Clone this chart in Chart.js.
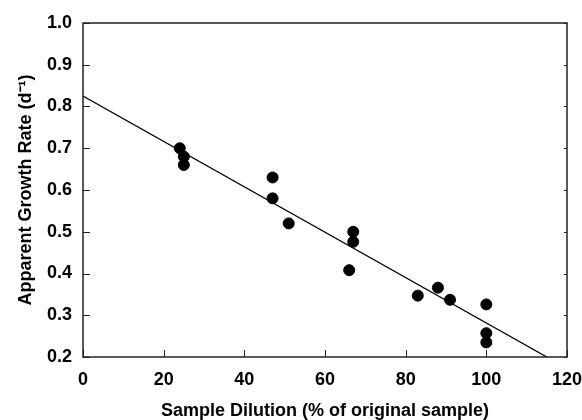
<!DOCTYPE html>
<html>
<head>
<meta charset="utf-8">
<script src="https://cdn.jsdelivr.net/npm/chart.js@4"></script>
<style>
  html, body { margin: 0; padding: 0; background: #fff; }
  #wrap { width: 582px; height: 420px; }
</style>
</head>
<body>
<div id="wrap"><canvas id="growth"></canvas></div>
<script>
// sample dilution (% of original sample) vs apparent growth rate (d-1)
var dilution = [24, 25, 25, 47, 47, 51, 67, 67, 66, 83, 88, 91, 100, 100, 100];
var growthRate = [0.70, 0.68, 0.66, 0.63, 0.58, 0.52, 0.50, 0.476, 0.408, 0.347, 0.366, 0.337, 0.326, 0.257, 0.235];
// regression line end points
var fitX = [0, 115];
var fitY = [0.825, 0.2];
var xTicks = [0, 20, 40, 60, 80, 100, 120];
var yTicks = [0.2, 0.3, 0.4, 0.5, 0.6, 0.7, 0.8, 0.9, 1.0];

var font = "'Liberation Sans', Arial, sans-serif";

// frame + inward tick marks like the original plot
var frameTicks = {
  id: "frameTicks",
  afterDatasetsDraw: function (chart) {
    var ctx = chart.ctx;
    var a = chart.chartArea;
    var xs = chart.scales.x, ys = chart.scales.y;
    ctx.save();
    ctx.strokeStyle = "#222";
    ctx.lineWidth = 1.5;
    ctx.strokeRect(a.left, a.top, a.right - a.left, a.bottom - a.top);
    ctx.lineWidth = 1;
    ctx.beginPath();
    xTicks.forEach(function (v) {
      var px = Math.round(xs.getPixelForValue(v)) + 0.5;
      ctx.moveTo(px, a.bottom);
      ctx.lineTo(px, a.bottom - 7);
    });
    yTicks.forEach(function (v) {
      var py = Math.round(ys.getPixelForValue(v)) + 0.5;
      ctx.moveTo(a.left, py);
      ctx.lineTo(a.left + 7, py);
      ctx.moveTo(a.right, py);
      ctx.lineTo(a.right - 3, py);
    });
    ctx.stroke();
    ctx.restore();
  }
};

var ctx = document.getElementById("growth").getContext("2d");
new Chart(ctx, {
  type: "scatter",
  data: {
    datasets: [
      {
        label: "Samples",
        data: dilution.map(function (x, i) { return { x: x, y: growthRate[i] }; }),
        backgroundColor: "#000",
        borderColor: "#000",
        pointRadius: 5.5,
        pointHoverRadius: 5.5
      },
      {
        type: "line",
        label: "Fit",
        data: fitX.map(function (x, i) { return { x: x, y: fitY[i] }; }),
        borderColor: "#000",
        borderWidth: 1.3,
        pointRadius: 0,
        fill: false
      }
    ]
  },
  plugins: [frameTicks],
  options: {
    responsive: true,
    maintainAspectRatio: false,
    animation: false,
    layout: { padding: { top: 23, right: 0, left: 0, bottom: 0 } },
    plugins: {
      legend: { display: false },
      tooltip: { enabled: false }
    },
    scales: {
      x: {
        type: "linear",
        min: 0,
        max: 120,
        afterBuildTicks: function (s) { s.ticks = xTicks.map(function (v) { return { value: v }; }); },
        afterFit: function (s) { s.height = 63; s.paddingRight = 15; },
        grid: { display: false, drawTicks: false },
        border: { display: false },
        ticks: {
          padding: 12,
          color: "#000",
          font: { family: font, size: 18, weight: "bold" }
        },
        title: {
          display: true,
          text: "Sample Dilution (% of original sample)",
          color: "#000",
          padding: { top: 0, bottom: -2 },
          font: { family: font, size: 18, weight: "bold" }
        }
      },
      y: {
        type: "linear",
        min: 0.2,
        max: 1.0,
        afterBuildTicks: function (s) { s.ticks = yTicks.map(function (v) { return { value: v }; }); },
        afterFit: function (s) { s.width = 83; },
        grid: { display: false, drawTicks: false },
        border: { display: false },
        ticks: {
          padding: 11,
          color: "#000",
          font: { family: font, size: 18, weight: "bold" },
          callback: function (v) { return v.toFixed(1); }
        },
        title: {
          display: true,
          text: "Apparent Growth Rate (d\u207B\u00B9)",
          color: "#000",
          padding: { top: 15, bottom: 0 },
          font: { family: font, size: 18, weight: "bold" }
        }
      }
    }
  }
});
</script>
</body>
</html>
